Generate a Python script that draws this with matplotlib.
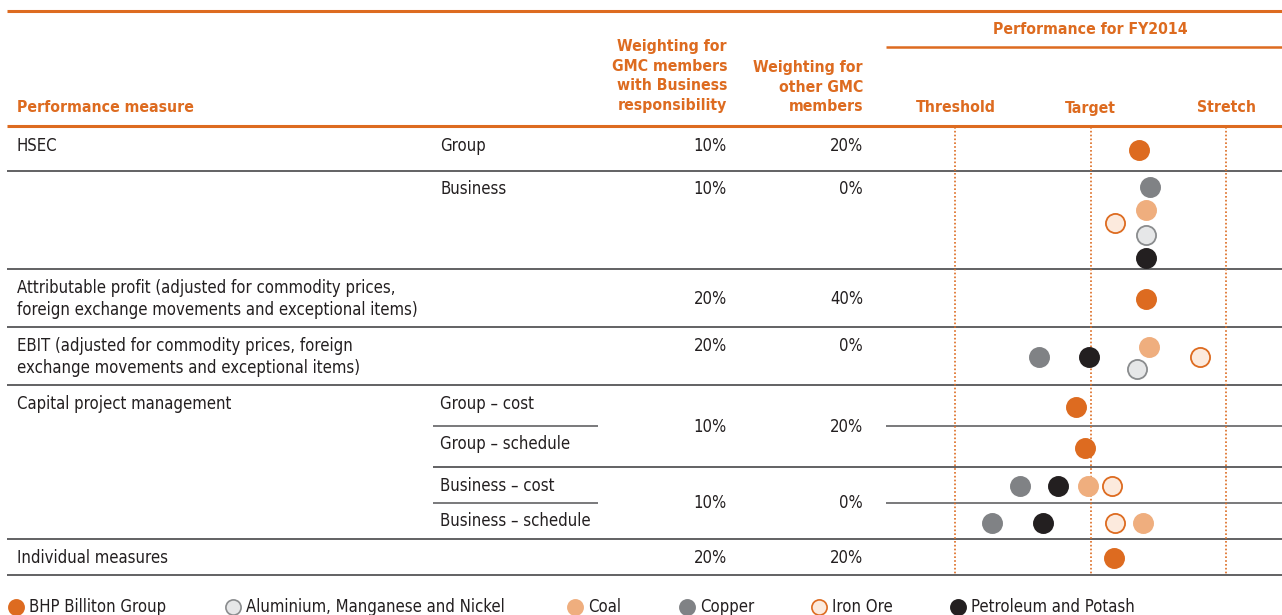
import numpy as np
import matplotlib
matplotlib.use('Agg')
import matplotlib.pyplot as plt

# performance scores: -1 = threshold, 0 = target, 1 = stretch
nan = np.nan
score_rows = ['HSEC Group', 'HSEC Business', 'Attributable profit', 'EBIT',
              'Group - cost', 'Group - schedule', 'Business - cost',
              'Business - schedule', 'Individual measures']
bhp = [0.36, nan, 0.41, nan, -0.11, -0.04, nan, nan, 0.17]
aluminium = [nan, 0.41, nan, 0.34, nan, nan, nan, nan, nan]
coal = [nan, 0.41, nan, 0.43, nan, nan, -0.02, 0.39, nan]
copper = [nan, 0.44, nan, -0.38, nan, nan, -0.52, -0.73, nan]
iron_ore = [nan, 0.18, nan, 0.81, nan, nan, 0.16, 0.18, nan]
petroleum = [nan, 0.41, nan, -0.01, nan, nan, -0.24, -0.35, nan]

series_names = ['BHP Billiton Group', 'Aluminium, Manganese and Nickel', 'Coal',
                'Copper', 'Iron Ore', 'Petroleum and Potash']
series_vals = [bhp, aluminium, coal, copper, iron_ore, petroleum]

weight_business = ['10%', '10%', '20%', '20%', '10%', '10%', '20%']
weight_other = ['20%', '0%', '40%', '0%', '20%', '0%', '20%']

ORANGE = '#DD6B20'
TXT = '#231F20'
LINE = '#555557'
face = [ORANGE, '#E6E7E8', '#EFAE7E', '#808285', '#FCEADD', '#231F20']
edge = [ORANGE, '#8A8C8E', '#EFAE7E', '#808285', ORANGE, '#231F20']

W, H = 1282, 615
fig = plt.figure(figsize=(W / 100, H / 100), dpi=100)
ax = fig.add_axes([0, 0, 1, 1])
ax.set_xlim(0, W)
ax.set_ylim(H, 0)
ax.axis('off')

fnt = dict(family='DejaVu Sans', stretch='condensed')
body = dict(fontsize=12.0, color=TXT, **fnt)
head = dict(fontsize=11.3, color=ORANGE, fontweight='bold', **fnt)

# header
ax.plot([7, W], [11, 11], color=ORANGE, lw=2.2, solid_capstyle='butt')
ax.plot([7, W], [126, 126], color=ORANGE, lw=2.2, solid_capstyle='butt')
ax.plot([886, W], [47, 47], color=ORANGE, lw=1.8, solid_capstyle='butt')
ax.text(17, 108, 'Performance measure', va='center', **head)
ax.text(727, 76, 'Weighting for\nGMC members\nwith Business\nresponsibility', ha='right', va='center',
        linespacing=1.38, **head)
ax.text(863, 87, 'Weighting for\nother GMC\nmembers', ha='right', va='center', linespacing=1.38, **head)
ax.text(1090, 29, 'Performance for FY2014', ha='center', va='center', **head)
for x, lab in zip([956, 1090, 1226], ['Threshold', 'Target', 'Stretch']):
    ax.text(x, 108, lab, ha='center', va='center', **head)

# row texts
ax.text(17, 299, 'Attributable profit (adjusted for commodity prices,\nforeign exchange movements and exceptional items)',
        va='center', linespacing=1.22, **body)
ax.text(17, 357, 'EBIT (adjusted for commodity prices, foreign\nexchange movements and exceptional items)',
        va='center', linespacing=1.22, **body)
for lab, y in zip(['HSEC', 'Capital project management', 'Individual measures'], [146, 404, 558]):
    ax.text(17, y, lab, va='center', **body)

sub_labels = ['Group', 'Business', 'Group \u2013 cost', 'Group \u2013 schedule',
              'Business \u2013 cost', 'Business \u2013 schedule']
sub_y = [146, 189, 404, 444, 486, 521]
for lab, y in zip(sub_labels, sub_y):
    ax.text(440, y, lab, va='center', **body)

weight_y = [146, 189, 299, 346, 427, 503, 558]
for wb, wo, y in zip(weight_business, weight_other, weight_y):
    ax.text(727, y, wb, ha='right', va='center', **body)
    ax.text(863, y, wo, ha='right', va='center', **body)

# row rules
for y in [171, 269, 327, 385, 539, 575]:
    ax.plot([7, W], [y, y], color=LINE, lw=1.3, solid_capstyle='butt')
ax.plot([433, W], [467, 467], color=LINE, lw=1.3, solid_capstyle='butt')
for y in [426, 503]:
    ax.plot([433, 598], [y, y], color=LINE, lw=1.1, solid_capstyle='butt')
    ax.plot([886, W], [y, y], color=LINE, lw=1.1, solid_capstyle='butt')

# performance panel: x from threshold (-1) to stretch (+1)
pax = fig.add_axes([955 / W, 0, (1226 - 955) / W, 1])
pax.set_xlim(-1, 1)
pax.set_ylim(H, 0)
pax.axis('off')
pax.vlines([-1, 0, 1], 127, 575, colors=ORANGE, linestyles=(0, (1, 1.3)), lw=1.2,
           clip_on=False)

row_y = [150, 222, 299, 357, 407, 448, 486, 523, 558]
# vertical nudges of dots within crowded rows
nudge = {1: [0, 13, -12, -35, 1, 36], 3: [0, 12, -10, 0, 0, 0]}
for k, vals in enumerate(series_vals):
    for r, v in enumerate(vals):
        if np.isnan(v):
            continue
        y = row_y[r] + nudge.get(r, [0] * 6)[k]
        pax.scatter(v, y, s=190, color=face[k], edgecolors=edge[k], linewidths=1.3,
                    clip_on=False, zorder=3)

# legend
leg_x = [16, 233, 575, 687, 819, 958]
for k, (x, name) in enumerate(zip(leg_x, series_names)):
    ax.scatter(x, 607, s=120, color=face[k], edgecolors=edge[k], linewidths=1.2, clip_on=False)
    ax.text(x + 13, 607, name, va='center', **body)

fig.savefig('out.png', dpi=100)
